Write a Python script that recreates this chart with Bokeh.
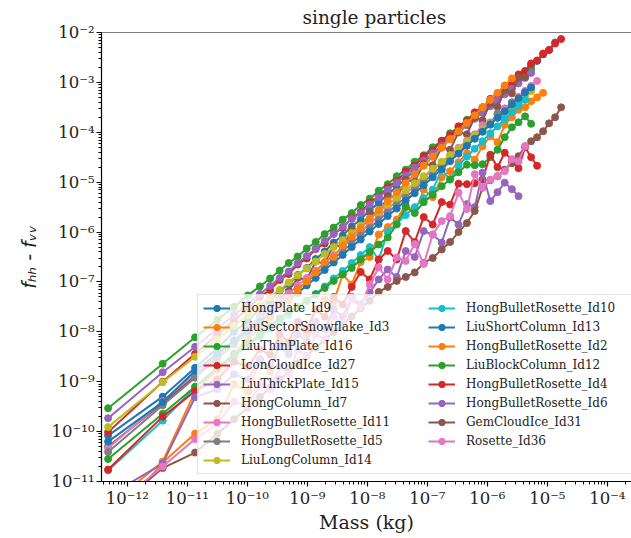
import numpy as np
from bokeh.plotting import figure
from bokeh.models import (Range1d, FixedTicker, CustomJSTickFormatter, Legend,
                          LegendItem, Span)
from bokeh.embed import file_html
from bokeh.resources import INLINE

# log10 of particle mass (kg), shared grid
mass_exp = [-12.32, -11.41, -10.87, -10.50, -10.22, -9.99, -9.79, -9.62, -9.46, -9.31,
            -9.16, -9.01, -8.86, -8.71, -8.56, -8.41, -8.26, -8.11, -7.96, -7.81,
            -7.66, -7.51, -7.36, -7.21, -7.06, -6.91, -6.76, -6.62, -6.48, -6.34,
            -6.21, -6.08, -5.95, -5.83, -5.71, -5.59, -5.48, -5.37, -5.27, -5.17,
            -5.07, -4.97, -4.87, -4.77]

# log10 of f_hh - f_vv for each particle type
hongplate_id9 = [-10.08, -9.30, -8.72, -8.33, -8.00, -7.78, -7.54, -7.38, -7.18, -7.04,
                 -6.86, -6.72, -6.54, -6.39, -6.21, -6.07, -5.89, -5.75, -5.56, -5.42,
                 -5.24, -5.10, -4.92, -4.77, -4.59, -4.45, -4.27, -4.14, -3.97, -3.83,
                 -3.67, -3.55, -3.39, -3.28, -3.13, -3.02, -2.89, -2.79, -2.66, -2.57,
                 -2.44, -2.35, -2.20]
liusectorsnowflake_id3 = [-11.90, -10.62, -10.04, -9.75, -9.05, -9.20, -8.55, -8.80, -8.20, -8.35,
                          -7.90, -8.05, -7.55, -7.35, -7.40, -6.85, -7.05, -6.60, -6.50, -6.05,
                          -5.90, -5.75, -5.45, -5.60, -5.15, -5.30, -4.90, -4.78, -4.60, -4.42,
                          -4.55, -4.28, -4.08, -4.20, -3.85, -3.70, -3.55, -3.50, -3.38, -3.30,
                          -3.21]
liuthinplate_id16 = [-9.53, -8.64, -8.11, -7.76, -7.50, -7.27, -7.09, -6.93, -6.77, -6.62,
                     -6.49, -6.33, -6.20, -6.04, -5.91, -5.75, -5.62, -5.46, -5.33, -5.17,
                     -5.04, -4.88, -4.75, -4.59, -4.46, -4.30, -4.17, -4.02, -3.90, -3.75,
                     -3.64, -3.50, -3.39, -3.26, -3.16, -3.03, -2.94, -2.82, -2.74]
iconcloudice_id27 = [-10.01, -9.00, -8.44, -8.06, -7.77, -7.53, -7.30, -7.16, -6.96, -6.84,
                     -6.65, -6.53, -6.34, -6.23, -6.03, -5.92, -5.72, -5.60, -5.41, -5.29,
                     -5.10, -4.98, -4.79, -4.67, -4.48, -4.36, -4.17, -4.06, -3.88, -3.77,
                     -3.60, -3.50, -3.33, -3.24, -3.08, -2.99, -2.84, -2.77, -2.62, -2.56,
                     -2.42, -2.35, -2.22, -2.13]
liuthickplate_id15 = [-9.73, -8.81, -8.30, -7.94, -7.66, -7.44, -7.24, -7.08, -6.92, -6.79,
                      -6.62, -6.48, -6.33, -6.18, -6.04, -5.89, -5.74, -5.62, -5.45, -5.30,
                      -5.15, -5.01, -4.86, -4.71, -4.57, -4.42, -4.27, -4.13, -4.00, -3.86,
                      -3.73, -3.61, -3.48, -3.36, -3.24, -3.13, -3.02, -2.91, -2.81]
hongcolumn_id7 = [-10.30, -9.43, -8.88, -8.48, -8.17, -7.92, -7.70, -7.52, -7.34, -7.18,
                  -6.92, -6.95, -6.59, -6.63, -6.26, -6.30, -5.94, -5.97, -5.61, -5.64,
                  -5.28, -5.32, -4.95, -4.99, -4.63, -4.66, -4.30, -4.35, -4.00, -4.04,
                  -3.70, -3.76, -3.42, -3.49, -3.16, -3.22, -2.91, -2.89]
hongbulletrosette_id11 = [-10.33, -9.39, -8.84, -8.46, -8.17, -7.93, -7.72, -7.55, -7.38, -7.23,
                          -7.07, -6.92, -6.77, -6.61, -6.46, -6.30, -6.15, -5.99, -5.84, -5.68,
                          -5.53, -5.38, -5.18, -5.12, -4.91, -4.76, -4.60, -4.46, -4.31, -4.17,
                          -4.04, -3.86, -3.80, -3.65, -3.52, -3.40, -3.29, -3.17, -3.07, -2.97]
hongbulletrosette_id5 = [-10.41, -9.47, -8.92, -8.54, -8.25, -8.01, -7.80, -7.63, -7.46, -7.31,
                         -7.15, -7.00, -6.85, -6.69, -6.54, -6.38, -6.23, -6.07, -5.92, -5.76,
                         -5.61, -5.46, -5.30, -5.15, -4.99, -4.84, -4.68, -4.54, -4.39, -4.25,
                         -4.12, -3.98, -3.85, -3.62, -3.68, -3.40, -3.45, -3.20, -3.15]
liulongcolumn_id14 = [-9.91, -9.01, -8.50, -8.15, -7.88, -7.66, -7.47, -7.31, -7.16, -7.01,
                      -6.87, -6.73, -6.59, -6.44, -6.30, -6.16, -6.02, -5.87, -5.73, -5.59,
                      -5.45, -5.31, -5.16, -5.02, -4.88, -4.73, -4.59, -4.46, -4.33, -4.19,
                      -4.07, -3.95, -3.82, -3.71, -3.60, -3.48, -3.38, -3.27, -3.18]
hongbulletrosette_id10 = [-10.78, -9.78, -9.11, -8.76, -8.50, -8.28, -8.10, -7.94, -7.80, -7.66,
                          -7.52, -7.38, -7.24, -7.09, -6.93, -6.78, -6.62, -6.46, -6.30, -6.55,
                          -6.00, -5.83, -5.66, -5.50, -5.32, -5.15, -4.75, -4.95, -4.66, -4.49,
                          -4.33, -4.18, -4.02, -3.88, -3.74, -3.60, -3.47, -3.35]
liushortcolumn_id13 = [-10.20, -9.41, -8.78, -8.44, -8.18, -7.97, -7.80, -7.64, -7.50, -7.36,
                       -7.22, -7.07, -6.92, -6.76, -6.61, -6.46, -6.30, -6.15, -5.99, -5.84,
                       -5.68, -5.53, -5.37, -5.22, -5.06, -4.90, -4.74, -4.58, -4.43, -4.27,
                       -4.13, -3.99, -3.84, -3.71, -3.58, -3.44, -3.32, -3.20, -3.10]
hongbulletrosette_id2 = [-11.50, -10.60, -9.20, -8.76, -8.43, -8.15, -7.91, -7.71, -7.52, -7.34,
                         -7.16, -6.99, -6.81, -6.60, -6.50, -6.27, -6.09, -5.92, -5.74, -5.56,
                         -5.38, -5.20, -5.02, -4.84, -4.67, -4.49, -4.31, -4.14, -3.98, -3.81,
                         -3.66, -3.50, -3.35, -3.21, -3.06, -2.92]
liublockcolumn_id12 = [-10.55, -9.64, -9.10, -8.72, -8.45, -8.24, -8.05, -7.88, -7.73, -7.60,
                       -7.50, -7.38, -7.25, -7.12, -6.98, -6.85, -6.72, -6.55, -6.40, -6.25,
                       -6.11, -5.85, -5.50, -5.62, -5.40, -5.25, -5.08, -4.94, -4.80, -4.65,
                       -4.66, -4.64, -4.50, -4.35, -4.10, -3.90, -3.80, -3.68, -3.83]
hongbulletrosette_id4 = [-10.76, -9.70, -9.19, -8.95, -8.60, -8.70, -8.35, -8.45, -8.05, -8.20,
                         -7.80, -7.95, -7.55, -7.70, -7.30, -7.45, -7.10, -6.80, -6.95, -6.55,
                         -6.38, -6.55, -5.98, -6.20, -5.70, -5.85, -5.40, -5.45, -5.03, -5.04,
                         -5.02, -4.95, -4.45, -4.70, -4.41, -4.55, -4.72, -4.30, -4.50, -4.67]
hongbulletrosette_id6 = [-11.29, -10.64, -9.31, -9.15, -8.85, -8.95, -8.55, -8.70, -8.30, -8.45,
                         -8.05, -8.20, -7.80, -7.95, -7.55, -7.70, -7.30, -7.45, -7.21, -6.95,
                         -6.75, -6.90, -6.38, -6.50, -5.98, -6.05, -6.21, -5.71, -5.85, -5.44,
                         -5.50, -4.81, -5.38, -5.20, -5.01, -5.14, -5.28]
gemcloudice_id31 = [-11.66, -10.73, -10.42, -10.05, -9.75, -9.52, -9.30, -9.13, -8.95, -8.80,
                    -8.63, -8.48, -8.32, -8.16, -8.01, -7.85, -7.69, -7.53, -7.38, -7.20,
                    -7.10, -6.98, -6.90, -6.81, -6.62, -6.52, -6.35, -6.20, -6.00, -5.82,
                    -5.58, -5.11, -4.96, -4.88, -4.75, -4.62, -4.48, -4.28, -4.18, -4.10,
                    -3.98, -3.82, -3.70, -3.50]
rosette_id36 = [-11.60, -10.70, -10.15, -9.85, -9.40, -9.50, -9.05, -9.15, -8.70, -8.85,
                -8.35, -8.50, -8.05, -8.15, -7.70, -7.85, -7.35, -7.50, -7.05, -6.71,
                -6.95, -6.51, -6.58, -6.24, -6.64, -6.05, -5.78, -5.68, -5.21, -5.54,
                -4.84, -5.11, -4.95, -4.88, -4.78, -4.54, -4.58, -4.28]

series_names = ["HongPlate_Id9", "LiuSectorSnowflake_Id3", "LiuThinPlate_Id16",
                "IconCloudIce_Id27", "LiuThickPlate_Id15", "HongColumn_Id7",
                "HongBulletRosette_Id11", "HongBulletRosette_Id5", "LiuLongColumn_Id14",
                "HongBulletRosette_Id10", "LiuShortColumn_Id13", "HongBulletRosette_Id2",
                "LiuBlockColumn_Id12", "HongBulletRosette_Id4", "HongBulletRosette_Id6",
                "GemCloudIce_Id31", "Rosette_Id36"]
series_values = [hongplate_id9, liusectorsnowflake_id3, liuthinplate_id16, iconcloudice_id27,
                 liuthickplate_id15, hongcolumn_id7, hongbulletrosette_id11,
                 hongbulletrosette_id5, liulongcolumn_id14, hongbulletrosette_id10,
                 liushortcolumn_id13, hongbulletrosette_id2, liublockcolumn_id12,
                 hongbulletrosette_id4, hongbulletrosette_id6, gemcloudice_id31, rosette_id36]
palette = ["#1f77b4", "#ff7f0e", "#2ca02c", "#d62728", "#9467bd",
           "#8c564b", "#e377c2", "#7f7f7f", "#bcbd22", "#17becf"]

x_major = [10.0 ** k for k in range(-13, -2)]
x_minor = [m * 10.0 ** k for k in range(-13, -3) for m in range(2, 10)]
y_major = [10.0 ** k for k in range(-11, -1)]
y_minor = [m * 10.0 ** k for k in range(-12, -2) for m in range(2, 10)]

SERIF = "DejaVu Serif"

p = figure(width=631, height=536, x_axis_type="log", y_axis_type="log",
           x_range=Range1d(10 ** -12.43, 10 ** -3.597), y_range=Range1d(1e-11, 1e-2),
           output_backend="svg", toolbar_location=None,
           min_border_left=101, min_border_right=0, min_border_top=31, min_border_bottom=55)
p.outline_line_color = None
p.xgrid.visible = False
p.ygrid.visible = False
p.background_fill_color = "white"
p.border_fill_color = "white"

fmt = CustomJSTickFormatter(code="""
const sup = {'-':'\u207b','0':'\u2070','1':'\u00b9','2':'\u00b2','3':'\u00b3','4':'\u2074',
             '5':'\u2075','6':'\u2076','7':'\u2077','8':'\u2078','9':'\u2079'};
const e = Math.round(Math.log10(tick));
return '10' + String(e).split('').map(c => sup[c]).join('');
""")

for ax, maj, mnr in [(p.xaxis[0], x_major, x_minor), (p.yaxis[0], y_major, y_minor)]:
    ax.ticker = FixedTicker(ticks=maj, minor_ticks=mnr)
    ax.formatter = fmt
    ax.major_tick_out = 5
    ax.major_tick_in = 0
    ax.minor_tick_out = 3
    ax.minor_tick_in = 0
    ax.axis_line_color = "black"
    ax.axis_line_width = 1.2
    ax.major_tick_line_width = 1.2
    ax.major_label_text_font = SERIF
    ax.major_label_text_font_size = "16.5px"
    ax.major_label_text_color = "#222222"
    ax.major_label_standoff = 2
    ax.axis_label_text_font_style = "normal"
    ax.axis_label_text_color = "#222222"

p.xaxis.axis_label = "Mass (kg)"
p.xaxis.axis_label_text_font = SERIF
p.xaxis.axis_label_text_font_size = "19px"
p.xaxis.axis_label_standoff = 0
p.yaxis.axis_label = "f\u2095\u2095 - f\u1d65\u1d65"
p.yaxis.axis_label_text_font = "DejaVu Sans"
p.yaxis.axis_label_text_font_style = "italic"
p.yaxis.axis_label_text_font_size = "19px"
p.yaxis.axis_label_standoff = 9

p.title.text = "single particles"
p.title.align = "left"
p.title.offset = 201
p.title.text_font = SERIF
p.title.text_font_style = "normal"
p.title.text_font_size = "18.5px"
p.title.text_color = "#222222"
p.title.standoff = 9

p.add_layout(Span(location=1e-2, dimension="width", line_color="black", line_width=1.2))

items = []
for i, (name, vals) in enumerate(zip(series_names, series_values)):
    col = palette[i % 10]
    xs = [10.0 ** v for v in mass_exp[:len(vals)]]
    ys = [10.0 ** v for v in vals]
    r1 = p.line(xs, ys, line_color=col, line_width=2)
    r2 = p.scatter(xs, ys, marker="circle", size=7, fill_color=col, line_color=col)
    items.append(LegendItem(label=name, renderers=[r1, r2]))

legend = Legend(items=items, location=(96, 7), orientation="vertical", nrows=9,
                label_text_font=SERIF, label_text_font_size="12px",
                label_text_color="#222222",
                glyph_width=27, glyph_height=16, label_height=16, label_width=184,
                label_standoff=11, spacing=3, padding=5, margin=0,
                border_line_color="#cccccc", border_line_width=1,
                background_fill_color="white", background_fill_alpha=0.8)
p.add_layout(legend)

open("out.html", "w").write(file_html(p, INLINE))
